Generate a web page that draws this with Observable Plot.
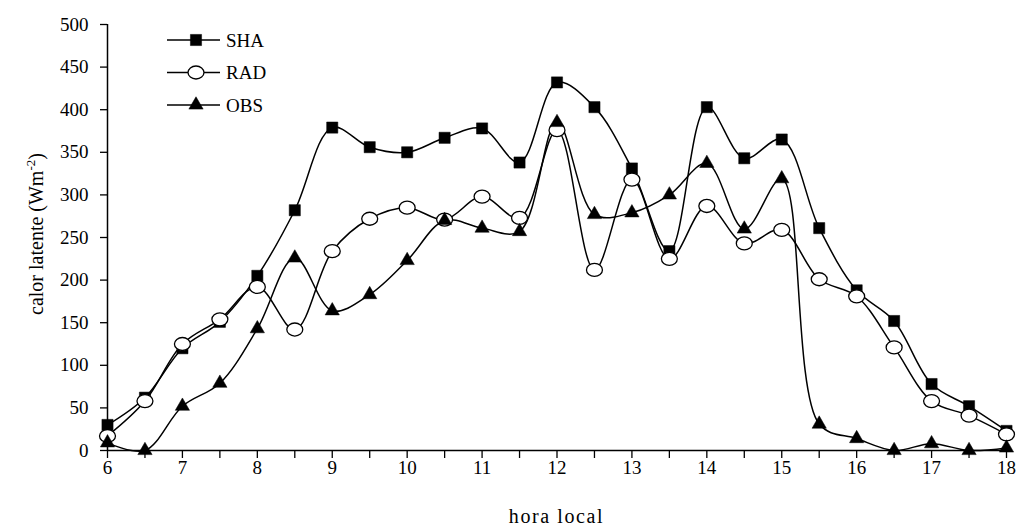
<!DOCTYPE html>
<html>
<head>
<meta charset="utf-8">
<script src="https://cdn.jsdelivr.net/npm/d3@7"></script>
<script src="https://cdn.jsdelivr.net/npm/@observablehq/plot@0.6"></script>
<style>
  html, body { margin: 0; padding: 0; background: #fff; }
  #chart { width: 1021px; height: 529px; }
</style>
</head>
<body>
<div id="chart"></div>
<script>
// ---- data ----
const hours = [6, 6.5, 7, 7.5, 8, 8.5, 9, 9.5, 10, 10.5, 11, 11.5, 12, 12.5, 13, 13.5, 14, 14.5, 15, 15.5, 16, 16.5, 17, 17.5, 18];
const sha = [30, 62, 120, 151, 205, 282, 379, 356, 350, 367, 378, 338, 432, 403, 331, 234, 403, 343, 365, 261, 188, 152, 78, 52, 23];
const rad = [17, 58, 125, 154, 192, 142, 234, 272, 285, 271, 298, 273, 376, 212, 318, 225, 287, 243, 259, 201, 181, 121, 58, 41, 19];
const obs = [9, 0, 52, 79, 143, 226, 164, 183, 223, 270, 261, 257, 385, 277, 279, 300, 337, 260, 319, 31, 14, 0, 8, 0, 3];
const seriesNames = ["SHA", "RAD", "OBS"];
const xTickLabels = [6, 7, 8, 9, 10, 11, 12, 13, 14, 15, 16, 17, 18];
const xMinorTicks = hours;
const yTicks = [0, 50, 100, 150, 200, 250, 300, 350, 400, 450, 500];
const xLabel = "hora local";
const yLabel = "calor latente (Wm";
const yLabelSup = "-2";

// ---- build tables ----
const toRows = (vals, name) => hours.map((h, i) => ({ hour: h, value: vals[i], series: name }));
const dSHA = toRows(sha, seriesNames[0]);
const dRAD = toRows(rad, seriesNames[1]);
const dOBS = toRows(obs, seriesNames[2]);

const FONT = "'Liberation Serif', 'Times New Roman', serif";
const SQ_R = 6.3, CI_R = 7, TR_R = 5.3;

// open ellipse symbol (wider than tall), like the reference markers
const ellipseSymbol = {
  draw(context, size) {
    const r = Math.sqrt(size / Math.PI);
    const rx = r * 1.14, ry = r * 0.93, k = 0.5523;
    context.moveTo(rx, 0);
    context.bezierCurveTo(rx, ry * k, rx * k, ry, 0, ry);
    context.bezierCurveTo(-rx * k, ry, -rx, ry * k, -rx, 0);
    context.bezierCurveTo(-rx, -ry * k, -rx * k, -ry, 0, -ry);
    context.bezierCurveTo(rx * k, -ry, rx, -ry * k, rx, 0);
    context.closePath();
  }
};

const chart = Plot.plot({
  width: 1021,
  height: 529,
  marginLeft: 107,
  marginRight: 15,
  marginTop: 24,
  marginBottom: 79,
  style: { fontFamily: FONT, fontSize: "19px", color: "#000", background: "#fff", overflow: "visible" },
  x: { domain: [6, 18], label: null },
  y: { domain: [0, 500], label: null },
  marks: [
    Plot.axisY({ ticks: yTicks, tickSize: 7, tickPadding: 12, tickFormat: d => String(d), fontSize: 19, label: null, strokeWidth: 1.3 }),
    Plot.axisX({ ticks: xMinorTicks, tickSize: 8, tickFormat: () => "", label: null, strokeWidth: 1.3 }),
    Plot.axisX({ ticks: xTickLabels, tickSize: 0, tickPadding: 10, tickFormat: d => String(d), fontSize: 19, label: null }),
    Plot.ruleX([6], { stroke: "black", strokeWidth: 1.5 }),
    Plot.ruleY([0], { stroke: "black", strokeWidth: 1.5 }),
    Plot.line(dSHA, { x: "hour", y: "value", curve: "catmull-rom", stroke: "black", strokeWidth: 1.5 }),
    Plot.line(dRAD, { x: "hour", y: "value", curve: "catmull-rom", stroke: "black", strokeWidth: 1.5 }),
    Plot.line(dOBS, { x: "hour", y: "value", curve: "catmull-rom", stroke: "black", strokeWidth: 1.5 }),
    Plot.dot(dSHA, { x: "hour", y: "value", symbol: "square", r: SQ_R, fill: "black", stroke: "black", strokeWidth: 0.5 }),
    Plot.dot(dRAD, { x: "hour", y: "value", symbol: ellipseSymbol, r: CI_R, fill: "white", stroke: "black", strokeWidth: 1.3 }),
    Plot.dot(dOBS, { x: "hour", y: "value", symbol: "triangle", r: TR_R, fill: "black", stroke: "black", strokeWidth: 0.5 })
  ]
});

document.getElementById("chart").appendChild(chart);

// ---- axis titles ----
const svg = d3.select(chart);
svg.append("text")
  .attr("x", 556.5).attr("y", 523)
  .attr("text-anchor", "middle")
  .attr("font-family", FONT).attr("font-size", 20)
  .attr("letter-spacing", 1.6)
  .attr("fill", "black")
  .text(xLabel);

const yl = svg.append("text")
  .attr("transform", "translate(43,234) rotate(-90)")
  .attr("text-anchor", "middle")
  .attr("font-family", FONT).attr("font-size", 20)
  .attr("fill", "black");
yl.append("tspan").text(yLabel);
yl.append("tspan").attr("dy", -8).attr("font-size", 13).text(yLabelSup);
yl.append("tspan").attr("dy", 8).text(")");

// ---- legend ----
const legendSymbols = [
  { type: d3.symbolSquare, r: SQ_R, fill: "black", sw: 0.5 },
  { type: ellipseSymbol, r: CI_R, fill: "white", sw: 1.3 },
  { type: d3.symbolTriangle, r: TR_R, fill: "black", sw: 0.5 }
];
const lg = svg.append("g").attr("transform", "translate(167,40)");
seriesNames.forEach((name, i) => {
  const g = lg.append("g").attr("transform", `translate(0,${i * 32.5})`);
  g.append("line").attr("x1", 0).attr("x2", 53).attr("y1", 0).attr("y2", 0)
    .attr("stroke", "black").attr("stroke-width", 1.5);
  const s = legendSymbols[i];
  g.append("path")
    .attr("transform", "translate(29,0)")
    .attr("d", d3.symbol(s.type, Math.PI * s.r * s.r)())
    .attr("fill", s.fill).attr("stroke", "black").attr("stroke-width", s.sw);
  g.append("text").attr("x", 59).attr("y", 0).attr("dy", "0.35em")
    .attr("text-anchor", "start")
    .attr("font-family", FONT).attr("font-size", 19).attr("fill", "black")
    .text(name);
});
</script>
</body>
</html>
